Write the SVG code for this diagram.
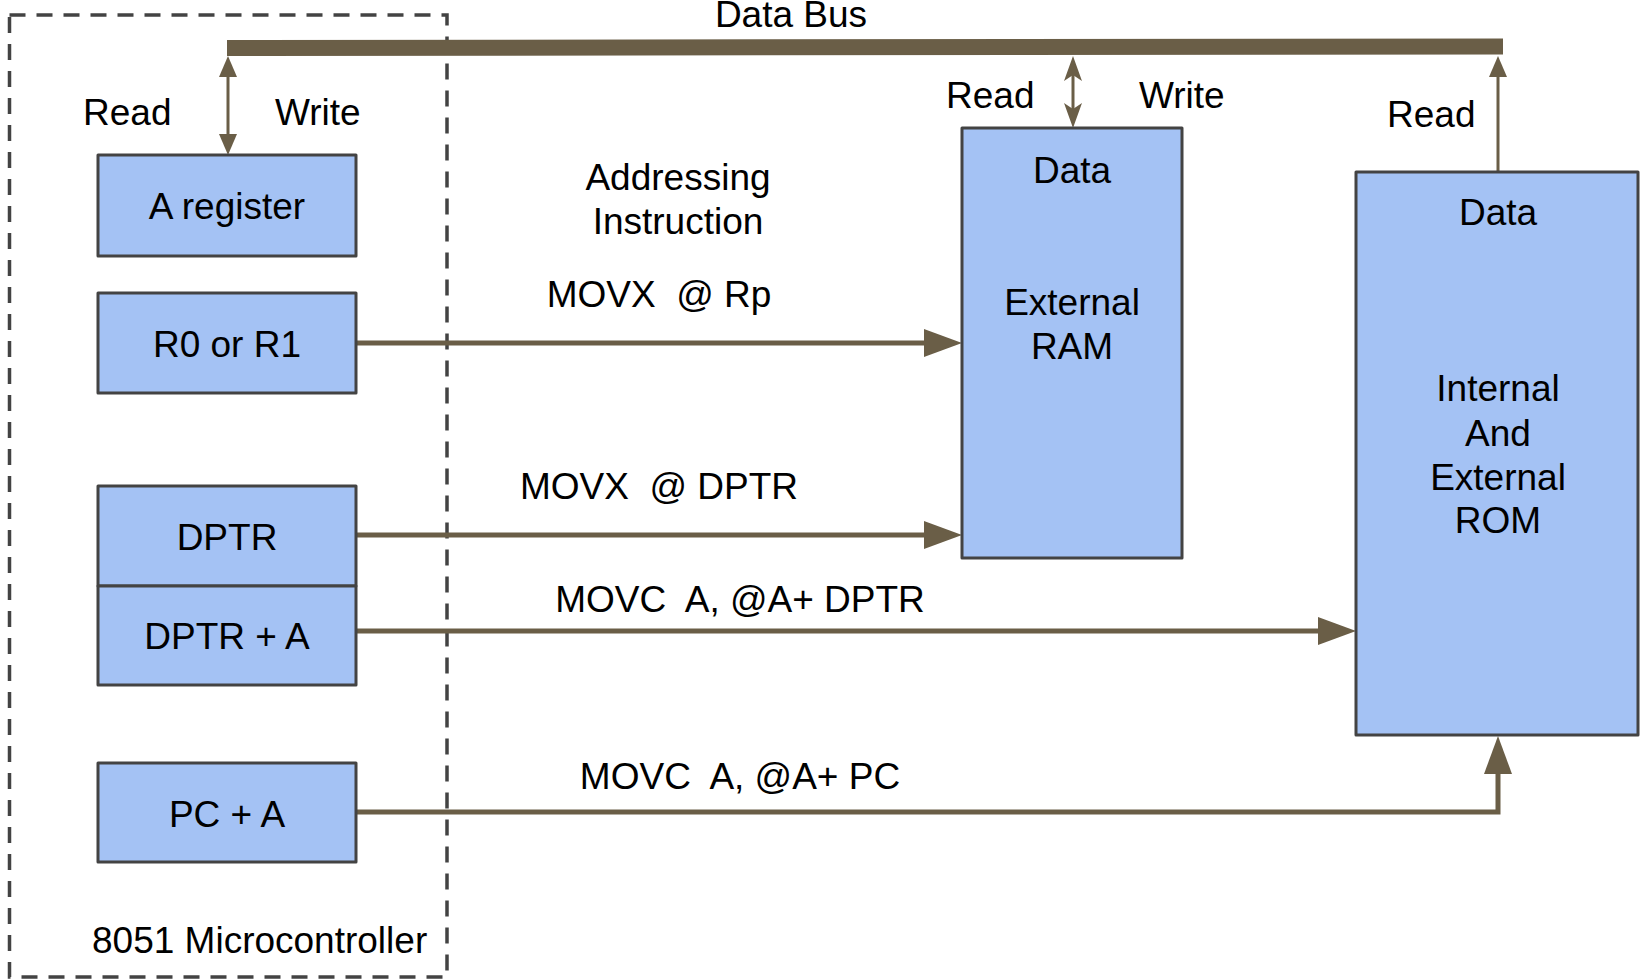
<svg xmlns="http://www.w3.org/2000/svg" width="1641" height="979" viewBox="0 0 1641 979">
<style>
  text { font-family: "Liberation Sans", Arial, sans-serif; font-size: 37px; fill: #000; white-space: pre; }
  .mid { text-anchor: middle; }
  .box { fill: #a4c2f4; stroke: #434343; stroke-width: 3; stroke-linejoin: round; }
  .wire { fill: none; stroke: #6a5e47; stroke-width: 5; }
  .thin { fill: none; stroke: #6a5e47; stroke-width: 3; }
  .bus { fill: none; stroke: #6a5e47; stroke-width: 16; }
  .frame { fill: none; stroke: #434343; stroke-width: 3.5; stroke-dasharray: 16 11; }
</style>
<defs>
  <marker id="big" markerUnits="userSpaceOnUse" markerWidth="40" markerHeight="30" refX="8" refY="14" orient="auto">
    <path d="M0,0 L38,14 L0,28 Z" fill="#6a5e47"/>
  </marker>
  <marker id="small" markerUnits="userSpaceOnUse" markerWidth="24" markerHeight="20" refX="5" refY="9" orient="auto-start-reverse">
    <path d="M0,0 L21,9 L0,18 Z" fill="#6a5e47"/>
  </marker>
  <marker id="stealth" markerUnits="userSpaceOnUse" markerWidth="28" markerHeight="20" refX="6" refY="9" orient="auto-start-reverse">
    <path d="M25,9 L0,0 L6,9 L0,18 Z" fill="#6a5e47"/>
  </marker>
</defs>

<g id="microcontroller">
  <rect class="frame" x="9.5" y="15" width="437.5" height="962"/>
  <text x="92" y="953">8051 Microcontroller</text>
</g>

<g id="connectors">
  <line class="bus" x1="227" y1="48" x2="1503" y2="46.5"/>
  <line class="thin" x1="228" y1="72" x2="228" y2="139" marker-start="url(#small)" marker-end="url(#small)"/>
  <line class="thin" x1="1073" y1="75" x2="1073" y2="109" marker-start="url(#stealth)" marker-end="url(#stealth)"/>
  <line class="thin" x1="1498" y1="172" x2="1498" y2="72" marker-end="url(#small)"/>
  <line class="wire" x1="356" y1="343" x2="932" y2="343" marker-end="url(#big)"/>
  <line class="wire" x1="356" y1="535" x2="932" y2="535" marker-end="url(#big)"/>
  <line class="wire" x1="356" y1="631" x2="1326" y2="631" marker-end="url(#big)"/>
  <polyline class="wire" points="356,812 1498,812 1498,766" marker-end="url(#big)"/>
</g>

<g id="labels">
  <text class="mid" x="791" y="27">Data Bus</text>
  <text x="83" y="125">Read</text>
  <text x="275" y="125">Write</text>
  <text x="946" y="108">Read</text>
  <text x="1139" y="108">Write</text>
  <text x="1387" y="127">Read</text>
  <text class="mid" x="678" y="190">Addressing</text>
  <text class="mid" x="678" y="234">Instruction</text>
  <text class="mid" x="659" y="307">MOVX  @ Rp</text>
  <text class="mid" x="659" y="499">MOVX  @ DPTR</text>
  <text class="mid" x="740" y="612">MOVC  A, @A+ DPTR</text>
  <text class="mid" x="740" y="789">MOVC  A, @A+ PC</text>
</g>

<g id="a-register">
  <rect class="box" x="98" y="155" width="258" height="101"/>
  <text class="mid" x="227" y="219">A register</text>
</g>
<g id="r0-r1">
  <rect class="box" x="98" y="293" width="258" height="100"/>
  <text class="mid" x="227" y="357">R0 or R1</text>
</g>
<g id="dptr">
  <rect class="box" x="98" y="486" width="258" height="100"/>
  <text class="mid" x="227" y="550">DPTR</text>
</g>
<g id="dptr-a">
  <rect class="box" x="98" y="586" width="258" height="99"/>
  <text class="mid" x="227" y="649">DPTR + A</text>
</g>
<g id="pc-a">
  <rect class="box" x="98" y="763" width="258" height="99"/>
  <text class="mid" x="227" y="827">PC + A</text>
</g>
<g id="external-ram">
  <rect class="box" x="962" y="128" width="220" height="430"/>
  <text class="mid" x="1072" y="183">Data</text>
  <text class="mid" x="1072" y="315">External</text>
  <text class="mid" x="1072" y="359">RAM</text>
</g>
<g id="rom">
  <rect class="box" x="1356" y="172" width="282" height="563"/>
  <text class="mid" x="1498" y="225">Data</text>
  <text class="mid" x="1498" y="401">Internal</text>
  <text class="mid" x="1498" y="446">And</text>
  <text class="mid" x="1498" y="490">External</text>
  <text class="mid" x="1498" y="533">ROM</text>
</g>
</svg>
